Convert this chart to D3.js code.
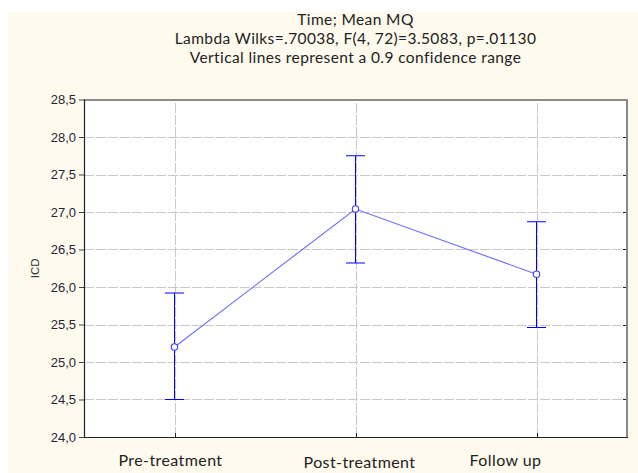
<!DOCTYPE html>
<html>
<head>
<meta charset="utf-8">
<script src="https://cdn.jsdelivr.net/npm/d3@7"></script>
<style>
  body { margin: 0; background: #fff; }
</style>
</head>
<body>
<div id="chart"></div>
<script>
// data
const categories = ["Pre-treatment", "Post-treatment", "Follow up"];
const means = [25.20, 27.04, 26.17];
const lower = [24.50, 26.32, 25.46];
const upper = [25.92, 27.75, 26.87];
const yTicks = [24.0, 24.5, 25.0, 25.5, 26.0, 26.5, 27.0, 27.5, 28.0, 28.5];
const titleLines = [
    "Time; Mean MQ",
    "Lambda Wilks=.70038, F(4, 72)=3.5083, p=.01130",
    "Vertical lines represent a 0.9 confidence range"
];

const width = 638, height = 473;
const margin = {left: 84, top: 99.5, right: 11, bottom: 36};

const svg = d3.select("#chart").append("svg")
    .attr("width", width)
    .attr("height", height);

// cream panel
svg.append("rect")
    .attr("x", 8).attr("y", 12)
    .attr("width", width - 8).attr("height", height - 12)
    .attr("fill", "#fffaee");

const x = d3.scaleLinear()
    .domain([-0.5, categories.length - 0.5])
    .range([margin.left, width - margin.right]);
const y = d3.scaleLinear()
    .domain([24, 28.5])
    .range([height - margin.bottom, margin.top]);

// plot area
svg.append("rect")
    .attr("x", x.range()[0]).attr("y", y.range()[1])
    .attr("width", x.range()[1] - x.range()[0])
    .attr("height", y.range()[0] - y.range()[1])
    .attr("fill", "#fff");

// grid
const grid = svg.append("g")
    .attr("stroke", "#c9c9c9")
    .attr("stroke-dasharray", "10,2");
grid.selectAll(".h")
    .data(yTicks.slice(1, -1))
    .join("line")
    .attr("x1", x.range()[0]).attr("x2", x.range()[1])
    .attr("y1", d => Math.round(y(d)) + 0.5)
    .attr("y2", d => Math.round(y(d)) + 0.5);
grid.selectAll(".v")
    .data(categories)
    .join("line")
    .attr("x1", (_, i) => Math.round(x(i)) + 0.5)
    .attr("x2", (_, i) => Math.round(x(i)) + 0.5)
    .attr("y1", y.range()[0]).attr("y2", y.range()[1]);

// y axis (ticks outward, comma decimals)
const yAxis = svg.append("g")
    .attr("transform", `translate(${x.range()[0]},0)`)
    .call(d3.axisLeft(y).tickValues(yTicks).tickSize(5).tickPadding(3)
        .tickFormat(d => d3.format(".1f")(d).replace(".", ",")));
yAxis.select(".domain").remove();
yAxis.selectAll("line").attr("stroke", "#444");
yAxis.selectAll("text")
    .attr("font-family", "Liberation Sans, Arial, sans-serif")
    .attr("font-size", 13)
    .attr("fill", "#1e2636");

// right inner ticks
svg.append("g")
    .selectAll("line")
    .data(yTicks.slice(1, -1))
    .join("line")
    .attr("x1", x.range()[1] - 4).attr("x2", x.range()[1])
    .attr("y1", d => Math.round(y(d)) + 0.5)
    .attr("y2", d => Math.round(y(d)) + 0.5)
    .attr("stroke", "#222");

// bottom inner ticks
svg.append("g")
    .selectAll("line")
    .data(categories)
    .join("line")
    .attr("x1", (_, i) => Math.round(x(i)) + 0.5)
    .attr("x2", (_, i) => Math.round(x(i)) + 0.5)
    .attr("y1", y.range()[0] - 4).attr("y2", y.range()[0])
    .attr("stroke", "#222");

// frame: top/right grey, left/bottom dark
const [x0, x1] = x.range(), [y0, y1] = y.range();
svg.append("path")
    .attr("d", `M${x0},${y1 + 0.5}H${x1}V${y0}`)
    .attr("fill", "none").attr("stroke", "#8a8a8a").attr("stroke-width", 2);
svg.append("path")
    .attr("d", `M${x0 + 0.5},${y1}V${y0 + 0.5}H${x1 + 1}`)
    .attr("fill", "none").attr("stroke", "#222").attr("stroke-width", 1.2);

// category labels
const labelShift = [-4, 4, -31];
svg.append("g")
    .selectAll("text")
    .data(categories)
    .join("text")
    .attr("x", (_, i) => x(i) + labelShift[i])
    .attr("y", (_, i) => i === 1 ? 468 : 466)
    .attr("text-anchor", "middle")
    .attr("font-family", "Lato, sans-serif")
    .attr("font-size", 16)
    .attr("letter-spacing", 0.4)
    .attr("fill", "#222")
    .text(d => d);

// y label
svg.append("text")
    .attr("transform", `translate(39,${(y0 + y1) / 2}) rotate(-90)`)
    .attr("text-anchor", "middle")
    .attr("font-family", "Liberation Sans, Arial, sans-serif")
    .attr("font-size", 11.5)
    .attr("fill", "#333")
    .text("ICD");

// title
svg.append("g")
    .selectAll("text")
    .data(titleLines)
    .join("text")
    .attr("x", (x0 + x1) / 2)
    .attr("y", (_, i) => 25 + i * 19)
    .attr("text-anchor", "middle")
    .attr("font-family", "Lato, sans-serif")
    .attr("font-size", 15.5)
    .attr("letter-spacing", 0.4)
    .attr("fill", "#222")
    .text(d => d);

// mean line
svg.append("path")
    .datum(means)
    .attr("d", d3.line().x((_, i) => x(i)).y(d => y(d)))
    .attr("fill", "none")
    .attr("stroke", "#6b6bff")
    .attr("stroke-width", 1.1);

// confidence bars
const bars = svg.append("g").attr("stroke", "#0000ff").attr("stroke-width", 1);
bars.selectAll(".stem")
    .data(categories)
    .join("line")
    .attr("x1", (_, i) => x(i)).attr("x2", (_, i) => x(i))
    .attr("y1", (_, i) => y(lower[i])).attr("y2", (_, i) => y(upper[i]));
bars.selectAll(".capTop")
    .data(categories)
    .join("line")
    .attr("x1", (_, i) => x(i) - 9.5).attr("x2", (_, i) => x(i) + 9.5)
    .attr("y1", (_, i) => y(upper[i])).attr("y2", (_, i) => y(upper[i]));
bars.selectAll(".capBot")
    .data(categories)
    .join("line")
    .attr("x1", (_, i) => x(i) - 9.5).attr("x2", (_, i) => x(i) + 9.5)
    .attr("y1", (_, i) => y(lower[i])).attr("y2", (_, i) => y(lower[i]));

// mean points
svg.append("g")
    .selectAll("circle")
    .data(means)
    .join("circle")
    .attr("cx", (_, i) => x(i))
    .attr("cy", d => y(d))
    .attr("r", 3.2)
    .attr("fill", "#fff")
    .attr("stroke", "#3a3aff")
    .attr("stroke-width", 1.1);
</script>
</body>
</html>
